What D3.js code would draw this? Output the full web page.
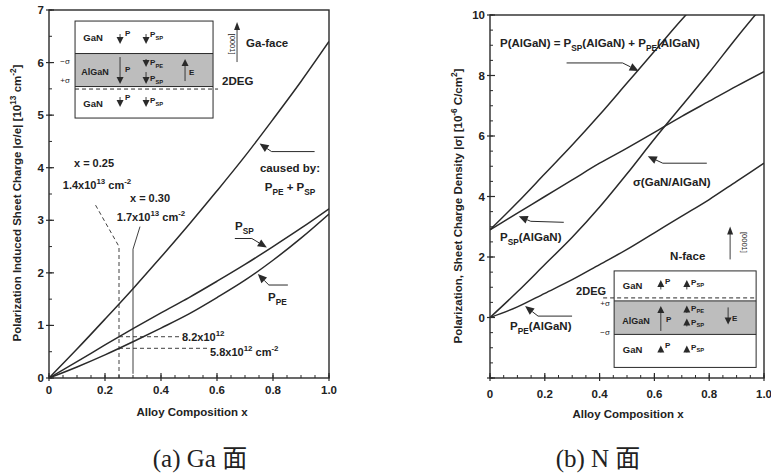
<!DOCTYPE html>
<html>
<head>
<meta charset="utf-8">
<script src="https://cdn.jsdelivr.net/npm/d3@7"></script>
<style>
  body { margin: 0; background: #fff; }
  svg { display: block; }
  text { font-family: "Liberation Sans", Arial, sans-serif; fill: #222; }
</style>
</head>
<body>
<div id="chart"></div>
<script>
// Alloy composition grid
const xs = [0, 0.1, 0.2, 0.3, 0.4, 0.5, 0.6, 0.7, 0.8, 0.9, 1.0];

// (a) Ga-face, sheet charge |sigma/e| in 1e13 cm^-2
const gaTotal = [0, 0.55, 1.12, 1.7, 2.3, 2.92, 3.56, 4.22, 4.92, 5.64, 6.4];
const gaSP    = [0, 0.31, 0.63, 0.94, 1.24, 1.53, 1.84, 2.16, 2.5, 2.85, 3.22];
const gaPE    = [0, 0.21, 0.44, 0.69, 0.95, 1.22, 1.53, 1.86, 2.24, 2.66, 3.12];

// (b) N-face, |sigma| in 1e-6 C/cm^2
const nTotalX = [0, 0.1, 0.2, 0.3, 0.4, 0.5, 0.6, 0.7, 0.75];
const nTotal  = [2.9, 3.8, 4.75, 5.7, 6.7, 7.75, 8.8, 9.85, 10.35];
const nSP     = [2.9, 3.45, 4.0, 4.55, 5.1, 5.6, 6.12, 6.65, 7.15, 7.65, 8.13];
const nSigma  = [0, 0.85, 1.75, 2.65, 3.65, 4.75, 5.9, 7.0, 8.1, 9.25, 10.35];
const nPE     = [0, 0.35, 0.8, 1.25, 1.75, 2.25, 2.8, 3.35, 3.9, 4.5, 5.1];

const xTicks = [0, 0.2, 0.4, 0.6, 0.8, 1.0];
const xTickLabels = ["0", "0.2", "0.4", "0.6", "0.8", "1.0"];
const gaYTicks = [0, 1, 2, 3, 4, 5, 6, 7];
const nYTicks = [0, 2, 4, 6, 8, 10];

const W = 771, H = 474;
const ink = "#2a2a2a";

const svg = d3.select("#chart").append("svg")
    .attr("width", W)
    .attr("height", H);

const defs = svg.append("defs");

// text with sub/superscripts: parts are strings or [text, "sub"|"sup"]
function rich(g, x, y, parts, size, anchor) {
    const t = g.append("text")
        .attr("x", x).attr("y", y)
        .attr("font-size", size)
        .style("font-weight", "bold")
        .attr("text-anchor", anchor || "start");
    let shift = 0;
    parts.forEach(p => {
        const s = typeof p === "string" ? p : p[0];
        const k = typeof p === "string" ? "" : p[1];
        const target = k === "sub" ? size * 0.32 : k === "sup" ? -size * 0.42 : 0;
        t.append("tspan")
            .attr("dy", target - shift)
            .attr("font-size", k ? size * 0.72 : size)
            .text(s);
        shift = target;
    });
    return t;
}

function thin(g, x, y, s, size, rot) {
    const t = g.append("text")
        .attr("text-anchor", "middle")
        .attr("font-size", size)
        .style("font-weight", "normal")
        .attr("fill", "#444")
        .text(s);
    if (rot) t.attr("transform", "translate(" + x + "," + y + ") rotate(" + rot + ")");
    else t.attr("x", x).attr("y", y);
    return t;
}

// value of a series at composition x (linear between read points)
function at(xArr, yArr, x) {
    return d3.scaleLinear().domain(xArr).range(yArr)(x);
}

function panel(opt) {
    const g = svg.append("g");
    const x = opt.x, y = opt.y;
    const [x0, x1] = x.range();
    const [yb, yt] = y.range();

    const clipId = "clip" + opt.id;
    defs.append("clipPath").attr("id", clipId)
        .append("rect")
        .attr("x", x0).attr("y", yt)
        .attr("width", x1 - x0).attr("height", yb - yt);

    // frame
    g.append("rect")
        .attr("x", x0).attr("y", yt)
        .attr("width", x1 - x0).attr("height", yb - yt)
        .attr("fill", "none")
        .attr("stroke", ink)
        .attr("stroke-width", 1.4);

    // x ticks (minor every 0.05, major every 0.2)
    const xMinor = d3.range(0, 1.0001, 0.05);
    g.selectAll(".xm").data(xMinor).enter().append("line")
        .attr("x1", d => x(d)).attr("x2", d => x(d))
        .attr("y1", yb).attr("y2", yb - 3)
        .attr("stroke", ink).attr("stroke-width", 1);
    g.selectAll(".xM").data(xTicks).enter().append("line")
        .attr("x1", d => x(d)).attr("x2", d => x(d))
        .attr("y1", yb + 3).attr("y2", yb - 5)
        .attr("stroke", ink).attr("stroke-width", 1.2);
    g.selectAll(".xl").data(xTicks).enter().append("text")
        .attr("x", d => x(d))
        .attr("y", yb + opt.xLabelDy)
        .attr("text-anchor", "middle")
        .attr("font-size", 11.5)
        .style("font-weight", "bold")
        .text((d, i) => xTickLabels[i]);

    // y ticks
    const [d0, d1] = y.domain();
    const yMinor = d3.range(d0, d1 + 0.0001, 0.5);
    g.selectAll(".ym").data(yMinor).enter().append("line")
        .attr("x1", x0).attr("x2", x0 + 3)
        .attr("y1", d => y(d)).attr("y2", d => y(d))
        .attr("stroke", ink).attr("stroke-width", 1);
    g.selectAll(".yM").data(opt.yMajor).enter().append("line")
        .attr("x1", x0 - 3).attr("x2", x0 + 5)
        .attr("y1", d => y(d)).attr("y2", d => y(d))
        .attr("stroke", ink).attr("stroke-width", 1.2);
    g.selectAll(".yl").data(opt.yTicks).enter().append("text")
        .attr("x", x0 - 5)
        .attr("y", d => y(d) + 4)
        .attr("text-anchor", "end")
        .attr("font-size", 11.5)
        .style("font-weight", "bold")
        .text(d => d);

    // curves
    const line = d3.line()
        .x(d => x(d[0]))
        .y(d => y(d[1]))
        .curve(d3.curveMonotoneX);
    const cg = g.append("g").attr("clip-path", "url(#" + clipId + ")");
    opt.series.forEach(s => {
        cg.append("path")
            .datum(s.xs.map((v, i) => [v, s.ys[i]]))
            .attr("d", line)
            .attr("fill", "none")
            .attr("stroke", ink)
            .attr("stroke-width", 1.5);
    });

    // axis titles
    rich(g, opt.xTitle[0], opt.xTitle[1], ["Alloy Composition  x"], 11.5, "middle");
    rich(g, 0, 0, opt.yTitle, 11.5, "middle")
        .attr("transform", "translate(" + opt.yTitlePos[0] + "," + opt.yTitlePos[1] + ") rotate(-90)");
    return g;
}

// pointer arrow: polyline ending in filled head at tip, offsets relative to tip
function pointer(g, tip, offsets) {
    const pts = offsets.map(o => [tip[0] + o[0], tip[1] + o[1]]);
    const last = pts[pts.length - 1];
    const dx = tip[0] - last[0], dy = tip[1] - last[1];
    const len = Math.hypot(dx, dy);
    const ux = dx / len, uy = dy / len;
    const hl = 9, hw = 4;
    const base = [tip[0] - ux * hl, tip[1] - uy * hl];
    g.append("path")
        .attr("d", d3.line()(pts.concat([base])))
        .attr("fill", "none")
        .attr("stroke", ink)
        .attr("stroke-width", 1);
    g.append("path")
        .attr("d", d3.line()([
            tip,
            [base[0] - uy * hw, base[1] + ux * hw],
            [base[0] + uy * hw, base[1] - ux * hw]
        ]) + "Z")
        .attr("fill", ink);
}

// small inset arrow, vertical, head at y2
function varrow(g, x, y1, y2, hw, hl) {
    const dir = y2 > y1 ? 1 : -1;
    g.append("line")
        .attr("x1", x).attr("x2", x)
        .attr("y1", y1).attr("y2", y2 - dir * hl * 0.6)
        .attr("stroke", ink).attr("stroke-width", 0.9);
    g.append("path")
        .attr("d", "M" + (x - hw / 2) + "," + (y2 - dir * hl) + " L" + (x + hw / 2) + "," + (y2 - dir * hl) + " L" + x + "," + y2 + " Z")
        .attr("fill", ink);
}

// ---------- (a) Ga-face ----------
const xL = d3.scaleLinear().domain([0, 1]).range([49, 329]);
const yL = d3.scaleLinear().domain([0, 7]).range([378, 10]);

const gA = panel({
    id: "a", x: xL, y: yL,
    yTicks: gaYTicks, yMajor: gaYTicks,
    xLabelDy: 16,
    xTitle: [192, 416],
    yTitle: ["Polarization Induced Sheet Charge  |σ/e|  [10", ["13", "sup"], " cm", ["-2", "sup"], "]"],
    yTitlePos: [21, 203],
    series: [
        { xs: xs, ys: gaTotal },
        { xs: xs, ys: gaSP },
        { xs: xs, ys: gaPE }
    ]
});

// guides at x = 0.25 and x = 0.30
const sp25 = at(xs, gaSP, 0.25), pe25 = at(xs, gaPE, 0.25);
gA.append("path")
    .attr("d", d3.line()([[xL(0.25), yL(0)], [xL(0.25), yL(2.5)], [xL(0.165), yL(3.3)]]))
    .attr("fill", "none").attr("stroke", ink).attr("stroke-width", 0.9)
    .attr("stroke-dasharray", "4,3");
gA.append("path")
    .attr("d", d3.line()([[xL(0.3), yL(0.08)], [xL(0.3), yL(2.45)], [xL(0.325), yL(2.88)]]))
    .attr("fill", "none").attr("stroke", ink).attr("stroke-width", 0.9);
gA.append("line")
    .attr("x1", xL(0.25)).attr("x2", xL(0.465))
    .attr("y1", yL(sp25)).attr("y2", yL(sp25))
    .attr("stroke", ink).attr("stroke-width", 0.9).attr("stroke-dasharray", "4,3");
gA.append("line")
    .attr("x1", xL(0.25)).attr("x2", xL(0.57))
    .attr("y1", yL(pe25)).attr("y2", yL(pe25))
    .attr("stroke", ink).attr("stroke-width", 0.9).attr("stroke-dasharray", "4,3");

rich(gA, 94, 167, ["x = 0.25"], 11, "middle");
rich(gA, 97, 189, ["1.4x10", ["13", "sup"], " cm", ["-2", "sup"]], 11, "middle");
rich(gA, 150, 202, ["x = 0.30"], 11, "middle");
rich(gA, 151, 221, ["1.7x10", ["13", "sup"], " cm", ["-2", "sup"]], 11, "middle");
rich(gA, 182, 341, ["8.2x10", ["12", "sup"]], 11);
rich(gA, 210, 356, ["5.8x10", ["12", "sup"], " cm", ["-2", "sup"]], 11);

rich(gA, 290, 172, ["caused by:"], 11.5, "middle");
rich(gA, 290, 191, ["P", ["PE", "sub"], " + P", ["SP", "sub"]], 11.5, "middle");
rich(gA, 235, 230, ["P", ["SP", "sub"]], 11.5);
rich(gA, 268, 301, ["P", ["PE", "sub"]], 11.5);

const tTot = [xL(0.745) + 2, yL(at(xs, gaTotal, 0.745)) + 4];
pointer(gA, tTot, [[55, 8], [12, 8]]);
const tSP = [xL(0.778), yL(at(xs, gaSP, 0.778)) - 3];
pointer(gA, tSP, [[-32, -9], [-15, -9]]);
const tPE = [xL(0.746), yL(at(xs, gaPE, 0.746)) + 3];
pointer(gA, tPE, [[30, 11], [11, 11]]);

// Ga-face layer inset
(function () {
    const g = gA.append("g")
        .attr("transform", "translate(" + xL(0.093) + "," + yL(6.79) + ")");
    const w = 138;
    g.append("rect").attr("x", 0).attr("y", 32.5).attr("width", w).attr("height", 33)
        .attr("fill", "#bdbdbd");
    g.append("rect").attr("x", 0).attr("y", 0).attr("width", w).attr("height", 97)
        .attr("fill", "none").attr("stroke", ink).attr("stroke-width", 1);
    [32.5, 65.5].forEach(yy => g.append("line").attr("x1", 0).attr("x2", w)
        .attr("y1", yy).attr("y2", yy).attr("stroke", ink).attr("stroke-width", 1));
    g.append("line").attr("x1", 0).attr("x2", 143).attr("y1", 68).attr("y2", 68)
        .attr("stroke", ink).attr("stroke-width", 1).attr("stroke-dasharray", "4,3");

    rich(g, 18, 20, ["GaN"], 9.5, "middle");
    rich(g, 20, 54, ["AlGaN"], 9, "middle");
    rich(g, 18, 86, ["GaN"], 9.5, "middle");

    varrow(g, 45, 13, 23, 7, 7);
    varrow(g, 71, 13, 23, 7, 7);
    rich(g, 50, 15, ["P"], 8);
    rich(g, 75, 16, ["P", ["SP", "sub"]], 8);

    varrow(g, 45, 36, 63, 7, 7);
    rich(g, 50, 51, ["P"], 8);
    varrow(g, 71, 38, 46, 7, 7);
    rich(g, 75, 44, ["P", ["PE", "sub"]], 8);
    varrow(g, 71, 51, 63, 7, 7);
    rich(g, 75, 60, ["P", ["SP", "sub"]], 8);
    varrow(g, 110, 60, 38, 7, 7);
    rich(g, 114, 54, ["E"], 8);

    thin(g, -10, 43, "−σ", 8);
    thin(g, -10, 62, "+σ", 8);

    varrow(g, 45, 76, 86, 7, 7);
    varrow(g, 71, 76, 86, 7, 7);
    rich(g, 50, 79, ["P"], 8);
    rich(g, 75, 82, ["P", ["SP", "sub"]], 8);

    thin(g, 155, 23, "[0001]", 7.5, 90);
    varrow(g, 162, 41, 1, 6, 8);
    rich(g, 171, 26, ["Ga-face"], 11.5);
    rich(g, 147, 64, ["2DEG"], 11.5);
})();

// ---------- (b) N-face ----------
const xR = d3.scaleLinear().domain([0, 1]).range([490, 764]);
const yR = d3.scaleLinear().domain([-2, 10]).range([378, 15]);

const gB = panel({
    id: "b", x: xR, y: yR,
    yTicks: nYTicks, yMajor: [-2].concat(nYTicks),
    xLabelDy: 20,
    xTitle: [628, 418],
    yTitle: ["Polarization, Sheet Charge Density |σ|  [10", ["-6", "sup"], " C/cm", ["2", "sup"], "]"],
    yTitlePos: [462, 206],
    series: [
        { xs: nTotalX, ys: nTotal },
        { xs: xs, ys: nSP },
        { xs: xs, ys: nSigma },
        { xs: xs, ys: nPE }
    ]
});

rich(gB, 500, 47, ["P(AlGaN) = P", ["SP", "sub"], "(AlGaN) + P", ["PE", "sub"], "(AlGaN)"], 11.5);
rich(gB, 633, 186, ["σ(GaN/AlGaN)"], 11.5);
rich(gB, 500, 241, ["P", ["SP", "sub"], "(AlGaN)"], 11.5);
rich(gB, 510, 330, ["P", ["PE", "sub"], "(AlGaN)"], 11.5);

const tNT = [xR(0.535) + 2, yR(at(nTotalX, nTotal, 0.535)) - 1];
pointer(gB, tNT, [[-72, -8], [-16, -8]]);
const tNS = [xR(0.565) + 3, yR(at(xs, nSigma, 0.565)) + 5];
pointer(gB, tNS, [[59, 7], [15, 7]]);
const tNSP = [xR(0.105), yR(at(xs, nSP, 0.105)) + 4];
pointer(gB, tNSP, [[45, 6], [12, 5]]);
const tNPE = [xR(0.128), yR(at(xs, nPE, 0.128)) + 3];
pointer(gB, tNPE, [[47, 10], [13, 10]]);

// N-face layer inset
(function () {
    const g = gB.append("g")
        .attr("transform", "translate(" + xR(0.453) + "," + yR(1.54) + ")");
    const w = 142;
    g.append("rect").attr("x", 0).attr("y", 30).attr("width", w).attr("height", 33.5)
        .attr("fill", "#bdbdbd");
    g.append("rect").attr("x", 0).attr("y", 0).attr("width", w).attr("height", 96.5)
        .attr("fill", "none").attr("stroke", ink).attr("stroke-width", 1);
    [30, 63.5].forEach(yy => g.append("line").attr("x1", 0).attr("x2", w)
        .attr("y1", yy).attr("y2", yy).attr("stroke", ink).attr("stroke-width", 1));
    g.append("line").attr("x1", -11).attr("x2", w).attr("y1", 27).attr("y2", 27)
        .attr("stroke", ink).attr("stroke-width", 1).attr("stroke-dasharray", "4,3");

    rich(g, 18.5, 18, ["GaN"], 9.5, "middle");
    rich(g, 22, 53, ["AlGaN"], 9, "middle");
    rich(g, 18.5, 82, ["GaN"], 9.5, "middle");

    varrow(g, 46.7, 18.5, 9, 7, 7);
    varrow(g, 72.7, 18.5, 9, 7, 7);
    rich(g, 51, 13, ["P"], 8);
    rich(g, 77, 14, ["P", ["SP", "sub"]], 8);

    varrow(g, 46.7, 60, 35, 7, 7);
    rich(g, 52, 51, ["P"], 8);
    varrow(g, 72.7, 42, 34.5, 7, 7);
    rich(g, 77, 40, ["P", ["PE", "sub"]], 8);
    varrow(g, 72.7, 55.5, 47.5, 7, 7);
    rich(g, 77, 54, ["P", ["SP", "sub"]], 8);
    varrow(g, 114, 36.5, 53.5, 7, 7);
    rich(g, 118, 50, ["E"], 8);

    thin(g, -9, 35.5, "+σ", 8);
    thin(g, -9, 64.5, "−σ", 8);

    varrow(g, 46.7, 81.5, 74.5, 7, 7);
    varrow(g, 72.7, 81.5, 74.5, 7, 7);
    rich(g, 51, 77, ["P"], 8);
    rich(g, 77, 79, ["P", ["SP", "sub"]], 8);

    rich(g, -38, 24, ["2DEG"], 11);
    rich(g, 56, -10.5, ["N-face"], 11.5);
    thin(g, 128, -28.5, "[0001]", 7.5, 90);
    varrow(g, 116, -11.5, -44.5, 6, 8);
})();

// captions
[["(a) Ga ", 200], ["(b) N ", 598]].forEach(c => {
    const t = svg.append("text")
        .attr("x", c[1]).attr("y", 467)
        .attr("text-anchor", "middle")
        .attr("font-size", 25)
        .style("font-weight", "normal")
        .style("font-family", "'Liberation Serif', 'Times New Roman', serif")
        .attr("fill", "#111");
    t.append("tspan").text(c[0]);
    t.append("tspan").style("font-family", "'Noto Sans CJK SC', sans-serif").text("面");
});
</script>
</body>
</html>
